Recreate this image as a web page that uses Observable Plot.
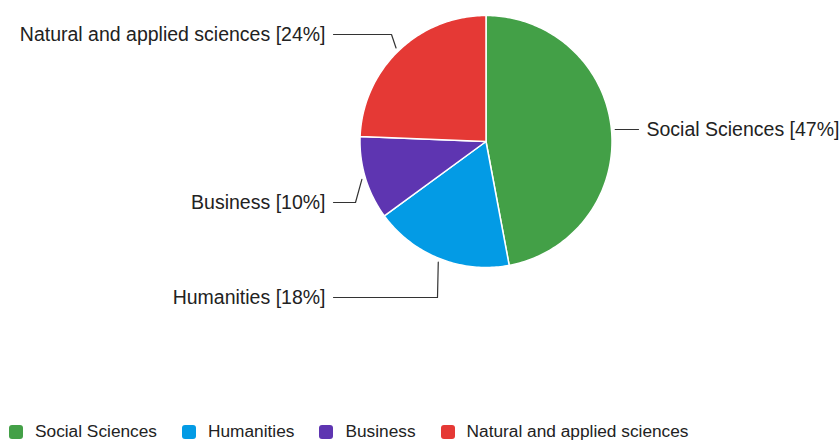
<!DOCTYPE html>
<html><head><meta charset="utf-8">
<script src="https://cdn.jsdelivr.net/npm/d3@7"></script>
<script src="https://cdn.jsdelivr.net/npm/@observablehq/plot@0.6"></script>
<style>
body{margin:0;background:#fff;font-family:"Liberation Sans",Arial,sans-serif;}
#chart svg{display:block}
.lg-swatches{font-family:"Liberation Sans",Arial,sans-serif !important;font-size:17.3px !important;color:#222;margin:0 !important;padding-left:9px;height:21px;min-height:21px !important;}
.lg-swatch{margin-right:25px !important;}
.lg-swatch > svg{margin-right:12px !important;}
.lg-swatch rect{rx:3px;ry:3px;}
</style></head><body><div id="chart"></div><script>
// ---- data ----
const categories = ["Social Sciences", "Humanities", "Business", "Natural and applied sciences"];
const shares = [47.1, 17.9, 10.7, 24.4];           // slice sizes (%)
const percentLabels = ["47%", "18%", "10%", "24%"]; // label text as printed
const colors = ["#43a047", "#039be5", "#5e35b1", "#e53935"];

// ---- layout (pixels) ----
const W = 840, H = 421, CX = 485.5, CY = 141, R = 126;
// label line y and elbow x per category (pixels); null = straight leader
const labelLayout = {
  "Social Sciences": {y: null, elbowX: null, side: "right"},
  "Humanities": {y: 297, elbowX: 437, side: "left"},
  "Business": {y: 202, elbowX: 355, side: "left"},
  "Natural and applied sciences": {y: 34, elbowX: 391, side: "left"}
};
const toX = px => (px - CX) / R, toY = py => (CY - py) / R;

const rows = categories.map((name, i) => ({name, share: shares[i], pct: percentLabels[i]}));
const arcs = d3.pie().sort(null).value(d => d.share)(rows);

// slice polygons in pie units (radius 1, centre 0,0)
const slicePts = [];
for (const a of arcs) {
  const name = a.data.name;
  slicePts.push({name, x: 0, y: 0});
  const n = Math.max(2, Math.ceil((a.endAngle - a.startAngle) / (Math.PI / 180)));
  for (let k = 0; k <= n; k++) {
    const t = a.startAngle + (a.endAngle - a.startAngle) * k / n;
    slicePts.push({name, x: Math.sin(t), y: Math.cos(t)});
  }
  slicePts.push({name, x: 0, y: 0});
}

// leaders and labels
const leaderPts = [], labels = [];
for (const a of arcs) {
  const name = a.data.name, L = labelLayout[name];
  const mid = (a.startAngle + a.endAngle) / 2;
  const sx = 1.03 * Math.sin(mid), sy = 1.03 * Math.cos(mid);
  const ly = L.y == null ? sy : toY(L.y);
  leaderPts.push({name, x: sx, y: sy});
  if (L.elbowX != null) leaderPts.push({name, x: toX(L.elbowX), y: ly});
  const endX = L.side === "left" ? toX(333) : toX(638);
  leaderPts.push({name, x: endX, y: ly});
  labels.push({
    name, y: ly,
    x: L.side === "left" ? toX(325) : toX(646),
    anchor: L.side === "left" ? "end" : "start",
    text: `${name} [${a.data.pct}]`
  });
}

const chart = Plot.plot({
  width: W, height: H, margin: 0,
  x: {domain: [toX(0), toX(W)], axis: null},
  y: {domain: [toY(H), toY(0)], axis: null},
  color: {domain: categories, range: colors},
  style: {fontFamily: "'Liberation Sans', Arial, sans-serif", background: "#fff"},
  marks: [
    Plot.line(slicePts, {x: "x", y: "y", z: "name", fill: "name", stroke: "white", strokeWidth: 1.5, curve: "linear"}),
    Plot.line(leaderPts, {x: "x", y: "y", z: "name", stroke: "#333", strokeWidth: 1.2, curve: "linear"}),
    Plot.text(labels.filter(d => d.anchor === "end"), {x: "x", y: "y", text: "text", textAnchor: "end", fontSize: 19.5, fill: "#222"}),
    Plot.text(labels.filter(d => d.anchor === "start"), {x: "x", y: "y", text: "text", textAnchor: "start", fontSize: 19.5, fill: "#222"})
  ]
});
document.getElementById("chart").append(chart);

const legend = Plot.legend({
  color: {domain: categories, range: colors},
  legend: "swatches", swatchSize: 14, className: "lg"
});
document.getElementById("chart").append(legend);
</script></body></html>
